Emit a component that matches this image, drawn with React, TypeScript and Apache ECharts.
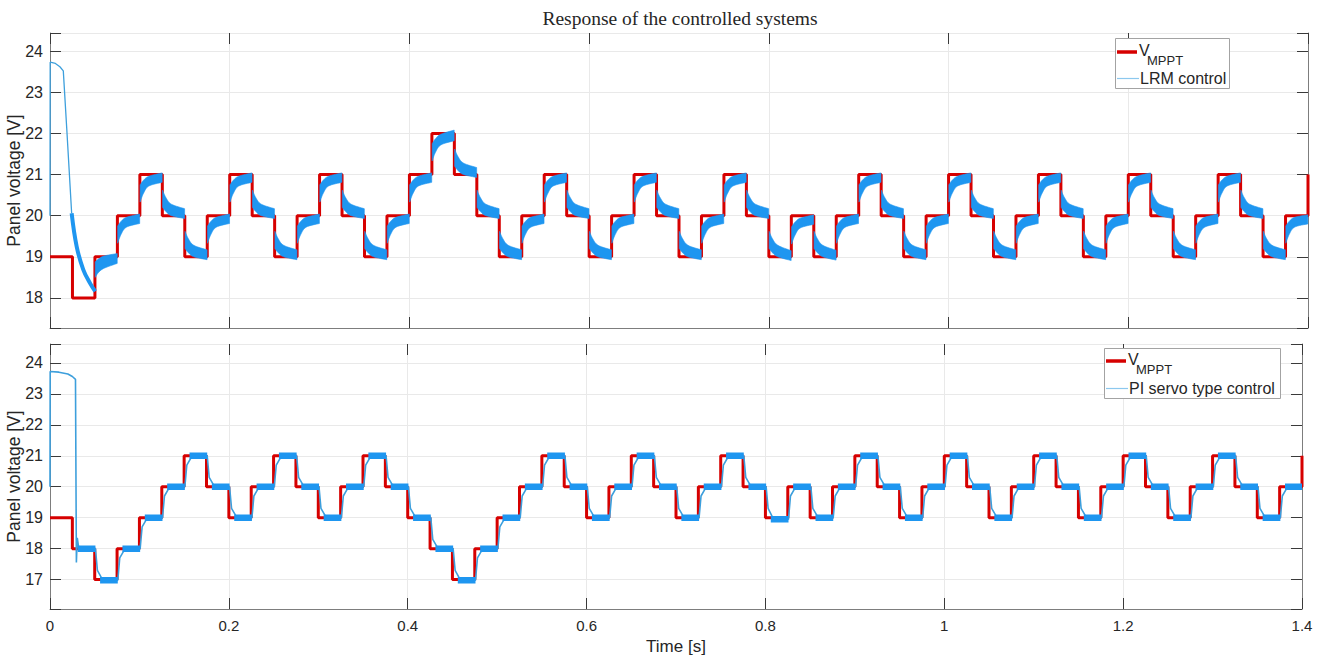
import React, { useEffect, useRef } from "react";
import * as echarts from "echarts";

// ---------- data ----------
const stepTimes = [
  0, 0.025, 0.05, 0.075, 0.1, 0.125, 0.15, 0.175, 0.2, 0.225, 0.25, 0.275, 0.3, 0.325, 0.35, 0.375,
  0.4, 0.425, 0.45, 0.475, 0.5, 0.525, 0.55, 0.575, 0.6, 0.625, 0.65, 0.675, 0.7, 0.725, 0.75, 0.775,
  0.8, 0.825, 0.85, 0.875, 0.9, 0.925, 0.95, 0.975, 1.0, 1.025, 1.05, 1.075, 1.1, 1.125, 1.15, 1.175,
  1.2, 1.225, 1.25, 1.275, 1.3, 1.325, 1.35, 1.375, 1.4,
];

const mpptTop = [
  19, 18, 19, 20, 21, 20, 19, 20, 21, 20, 19, 20, 21, 20, 19, 20,
  21, 22, 21, 20, 19, 20, 21, 20, 19, 20, 21, 20, 19, 20, 21, 20,
  19, 20, 19, 20, 21, 20, 19, 20, 21, 20, 19, 20, 21, 20, 19, 20,
  21, 20, 19, 20, 21, 20, 19, 20, 21,
];

const mpptBottom = [
  19, 18, 17, 18, 19, 20, 21, 20, 19, 20, 21, 20, 19, 20, 21, 20,
  19, 18, 17, 18, 19, 20, 21, 20, 19, 20, 21, 20, 19, 20, 21, 20,
  19, 20, 19, 20, 21, 20, 19, 20, 21, 20, 19, 20, 21, 20, 19, 20,
  21, 20, 19, 20, 21, 20, 19, 20, 21,
];

// LRM control: initial transient
const lrmInitT = [0, 0.0002, 0.006, 0.011, 0.0148, 0.0186, 0.0241];
const lrmInitV = [20.0, 23.73, 23.7, 23.62, 23.52, 22.13, 20.06];
const lrmSettleT = [0.0241, 0.0297, 0.037, 0.0445, 0.0503];
const lrmSettleV = [20.06, 19.25, 18.69, 18.36, 18.16];
// LRM control ripple band: lower / upper envelope, 4 readings per 25 ms step (from t = 0.05 s)
const lrmSampleOffsets = [0.0003, 0.004, 0.01, 0.0248];
const lrmLow = [
  [18.5, 18.62, 18.72, 18.84], // 0.050
  [19.33, 19.54, 19.72, 19.81], // 0.075
  [20.33, 20.54, 20.72, 20.81], // 0.100
  [20.2, 20.1, 20.0, 19.93], // 0.125
  [19.2, 19.1, 19.0, 18.93], // 0.150
  [19.33, 19.54, 19.72, 19.81], // 0.175
  [20.33, 20.54, 20.72, 20.81], // 0.200
  [20.2, 20.1, 20.0, 19.93], // 0.225
  [19.2, 19.1, 19.0, 18.93], // 0.250
  [19.33, 19.54, 19.72, 19.81], // 0.275
  [20.33, 20.54, 20.72, 20.81], // 0.300
  [20.2, 20.1, 20.0, 19.93], // 0.325
  [19.2, 19.1, 19.0, 18.93], // 0.350
  [19.33, 19.54, 19.72, 19.81], // 0.375
  [20.33, 20.54, 20.72, 20.81], // 0.400
  [21.33, 21.54, 21.72, 21.82], // 0.425
  [21.2, 21.1, 21.0, 20.93], // 0.450
  [20.2, 20.1, 20.0, 19.93], // 0.475
  [19.2, 19.1, 19.0, 18.93], // 0.500
  [19.33, 19.54, 19.72, 19.81], // 0.525
  [20.33, 20.54, 20.72, 20.81], // 0.550
  [20.2, 20.1, 20.0, 19.93], // 0.575
  [19.2, 19.1, 19.0, 18.93], // 0.600
  [19.33, 19.54, 19.72, 19.81], // 0.625
  [20.33, 20.54, 20.72, 20.81], // 0.650
  [20.2, 20.1, 20.0, 19.93], // 0.675
  [19.2, 19.1, 19.0, 18.93], // 0.700
  [19.33, 19.54, 19.72, 19.81], // 0.725
  [20.33, 20.54, 20.72, 20.81], // 0.750
  [20.2, 20.1, 20.0, 19.93], // 0.775
  [19.2, 19.1, 19.0, 18.91], // 0.800
  [19.31, 19.52, 19.7, 19.79], // 0.825
  [19.2, 19.1, 19.0, 18.92], // 0.850
  [19.33, 19.54, 19.72, 19.81], // 0.875
  [20.33, 20.54, 20.72, 20.81], // 0.900
  [20.2, 20.1, 20.0, 19.93], // 0.925
  [19.2, 19.1, 19.0, 18.93], // 0.950
  [19.33, 19.54, 19.72, 19.81], // 0.975
  [20.33, 20.54, 20.72, 20.81], // 1.000
  [20.2, 20.1, 20.0, 19.93], // 1.025
  [19.2, 19.1, 19.0, 18.93], // 1.050
  [19.33, 19.54, 19.72, 19.81], // 1.075
  [20.33, 20.54, 20.72, 20.81], // 1.100
  [20.2, 20.1, 20.0, 19.93], // 1.125
  [19.2, 19.1, 19.0, 18.93], // 1.150
  [19.33, 19.54, 19.72, 19.81], // 1.175
  [20.33, 20.54, 20.72, 20.81], // 1.200
  [20.2, 20.1, 20.0, 19.93], // 1.225
  [19.2, 19.1, 19.0, 18.93], // 1.250
  [19.33, 19.54, 19.72, 19.81], // 1.275
  [20.33, 20.54, 20.72, 20.81], // 1.300
  [20.2, 20.1, 20.0, 19.93], // 1.325
  [19.2, 19.1, 19.0, 18.93], // 1.350
  [19.33, 19.54, 19.72, 19.8], // 1.375
];
const lrmHigh = [
  [18.88, 18.95, 19.02, 19.08], // 0.050
  [19.75, 19.86, 19.96, 20.04], // 0.075
  [20.75, 20.86, 20.96, 21.04], // 0.100
  [20.62, 20.44, 20.28, 20.17], // 0.125
  [19.62, 19.44, 19.28, 19.17], // 0.150
  [19.75, 19.86, 19.96, 20.04], // 0.175
  [20.75, 20.86, 20.96, 21.04], // 0.200
  [20.62, 20.44, 20.28, 20.17], // 0.225
  [19.62, 19.44, 19.28, 19.17], // 0.250
  [19.75, 19.86, 19.96, 20.04], // 0.275
  [20.75, 20.86, 20.96, 21.04], // 0.300
  [20.62, 20.44, 20.28, 20.17], // 0.325
  [19.62, 19.44, 19.28, 19.17], // 0.350
  [19.75, 19.86, 19.96, 20.04], // 0.375
  [20.75, 20.86, 20.96, 21.04], // 0.400
  [21.75, 21.87, 21.98, 22.08], // 0.425
  [21.62, 21.44, 21.28, 21.17], // 0.450
  [20.62, 20.44, 20.28, 20.17], // 0.475
  [19.62, 19.44, 19.28, 19.17], // 0.500
  [19.75, 19.86, 19.96, 20.04], // 0.525
  [20.75, 20.86, 20.96, 21.04], // 0.550
  [20.62, 20.44, 20.28, 20.17], // 0.575
  [19.62, 19.44, 19.28, 19.17], // 0.600
  [19.75, 19.86, 19.96, 20.04], // 0.625
  [20.75, 20.86, 20.96, 21.04], // 0.650
  [20.62, 20.44, 20.28, 20.17], // 0.675
  [19.62, 19.44, 19.28, 19.17], // 0.700
  [19.75, 19.86, 19.96, 20.04], // 0.725
  [20.75, 20.86, 20.96, 21.04], // 0.750
  [20.62, 20.44, 20.28, 20.17], // 0.775
  [19.62, 19.44, 19.28, 19.15], // 0.800
  [19.73, 19.84, 19.94, 20.02], // 0.825
  [19.62, 19.44, 19.28, 19.16], // 0.850
  [19.75, 19.86, 19.96, 20.04], // 0.875
  [20.75, 20.86, 20.96, 21.04], // 0.900
  [20.62, 20.44, 20.28, 20.17], // 0.925
  [19.62, 19.44, 19.28, 19.17], // 0.950
  [19.75, 19.86, 19.96, 20.04], // 0.975
  [20.75, 20.86, 20.96, 21.04], // 1.000
  [20.62, 20.44, 20.28, 20.17], // 1.025
  [19.62, 19.44, 19.28, 19.17], // 1.050
  [19.75, 19.86, 19.96, 20.04], // 1.075
  [20.75, 20.86, 20.96, 21.04], // 1.100
  [20.62, 20.44, 20.28, 20.17], // 1.125
  [19.62, 19.44, 19.28, 19.17], // 1.150
  [19.75, 19.86, 19.96, 20.04], // 1.175
  [20.75, 20.86, 20.96, 21.04], // 1.200
  [20.62, 20.44, 20.28, 20.17], // 1.225
  [19.62, 19.44, 19.28, 19.17], // 1.250
  [19.75, 19.86, 19.96, 20.04], // 1.275
  [20.75, 20.86, 20.96, 21.04], // 1.300
  [20.62, 20.44, 20.28, 20.17], // 1.325
  [19.62, 19.44, 19.28, 19.17], // 1.350
  [19.75, 19.86, 19.96, 20.02], // 1.375
];

// PI servo control: initial transient
const piInitT = [0, 0.0002, 0.01, 0.02, 0.025, 0.0285, 0.0295, 0.0305, 0.032, 0.034];
const piInitV = [20.0, 23.72, 23.7, 23.64, 23.56, 23.47, 17.55, 18.35, 18.05, 18.0];
// PI servo control: settled level of each 25 ms step (from t = 0.025 s)
const piLevel = [
  18, 16.98, 18, 19, 20, 21, 20, 19, 20, 21, 20, 19, 20, 21, 20,
  19, 18, 16.98, 18, 19, 20, 21, 20, 19, 20, 21, 20, 19, 20, 21, 20,
  18.95, 20, 19, 20, 21, 20, 19, 20, 21, 20, 19, 20, 21, 20, 19, 20,
  21, 20, 19, 20, 21, 20, 19, 20,
];
// PI servo control: value ~3 ms after each step (from t = 0.05 s)
const piKnee = [
  17.3, 17.7, 18.7, 19.7, 20.7, 20.3, 19.3, 19.7, 20.7, 20.3, 19.3, 19.7, 20.7, 20.3,
  19.3, 18.3, 17.3, 17.7, 18.7, 19.7, 20.7, 20.3, 19.3, 19.7, 20.7, 20.3, 19.3, 19.7,
  20.7, 20.3, 19.3, 19.7, 19.3, 19.7, 20.7, 20.3, 19.3, 19.7, 20.7, 20.3, 19.3, 19.7,
  20.7, 20.3, 19.3, 19.7, 20.7, 20.3, 19.3, 19.7, 20.7, 20.3, 19.3, 19.7,
];

const xTicks = { min: 0, max: 1.4, interval: 0.2 };
const topRange = { min: 17.27, max: 24.44 };
const bottomRange = { min: 16.05, max: 24.61 };

// ---------- styling ----------
const SANS = "'Liberation Sans', Arial, Helvetica, sans-serif";
const RED = "#d60000";
const BLUE = "#1e96f0";
const THIN_BLUE = "#3d9fdc";
const AXIS = "#7d7d7d";
const TICK = "#3a3a3a";
const GRID = "#e9e9e9";
const LABEL = "#262626";

// smooth curve through pixel points (drawing helper only)
function spline(pts: number[][], steps = 8): number[][] {
  const out: number[][] = [];
  const n = pts.length;
  for (let i = 0; i < n - 1; i++) {
    const p0 = pts[Math.max(i - 1, 0)];
    const p1 = pts[i];
    const p2 = pts[i + 1];
    const p3 = pts[Math.min(i + 2, n - 1)];
    for (let s = 0; s < steps; s++) {
      const t = s / steps;
      const t2 = t * t;
      const t3 = t2 * t;
      const f = (a: number, b: number, c: number, d: number) =>
        0.5 * (2 * b + (-a + c) * t + (2 * a - 5 * b + 4 * c - d) * t2 + (-a + 3 * b - 3 * c + d) * t3);
      out.push([f(p0[0], p1[0], p2[0], p3[0]), f(p0[1], p1[1], p2[1], p3[1])]);
    }
  }
  out.push(pts[n - 1]);
  return out;
}

function buildOption(): any {
  const redTop = stepTimes.map((t, i) => [t, mpptTop[i]]);
  const redBottom = stepTimes.map((t, i) => [t, mpptBottom[i]]);

  const lrmInit = lrmInitT.map((t, i) => [t, lrmInitV[i]]);
  const lrmSettle = lrmSettleT.map((t, i) => [t, lrmSettleV[i]]);
  // one item per step: 4 times, 4 lower values, 4 upper values
  const bandItems = lrmLow.map((lows, k) => {
    const t0 = stepTimes[k + 2];
    return [...lrmSampleOffsets.map((o) => t0 + o), ...lows, ...lrmHigh[k]];
  });

  const piThin: any[] = piInitT.map((t, i) => [t, piInitV[i]]);
  for (let seg = 2; seg <= 55; seg++) {
    const t0 = stepTimes[seg];
    const prev = piLevel[seg - 2];
    const lvl = piLevel[seg - 1];
    piThin.push([t0 + 0.0008, prev]);
    piThin.push([t0 + 0.003, piKnee[seg - 2]]);
    piThin.push([t0 + 0.009, lvl]);
  }
  piThin.push([1.4, piLevel[54]]);

  const piBandData: any[] = [];
  for (let seg = 1; seg <= 55; seg++) {
    const lvl = piLevel[seg - 1];
    const ts = seg === 1 ? 0.031 : stepTimes[seg] + 0.006;
    const te = seg === 55 ? 1.4 : stepTimes[seg + 1] + 0.0008;
    piBandData.push([ts, lvl], [te, lvl], [te, "-"]);
  }

  const xMain = (gridIndex: number, labels: boolean) => ({
    type: "value",
    gridIndex,
    ...xTicks,
    position: "bottom",
    axisLine: { show: true, onZero: false, lineStyle: { color: AXIS, width: 1 } },
    axisTick: { show: true, inside: true, length: 11, lineStyle: { color: TICK, width: 1 } },
    axisLabel: {
      show: labels,
      fontFamily: SANS,
      fontSize: 15,
      color: LABEL,
      margin: 9,
    },
    splitLine: { show: true, lineStyle: { color: GRID, width: 1 } },
    name: labels ? "Time [s]" : "",
    nameLocation: "middle",
    nameGap: 29,
    nameMoveOverlap: false,
    nameTextStyle: { fontFamily: SANS, fontSize: 17, color: LABEL },
  });
  const xTop = (gridIndex: number) => ({
    type: "value",
    gridIndex,
    ...xTicks,
    position: "top",
    axisLine: { show: false, onZero: false },
    axisTick: { show: true, inside: true, length: 11, lineStyle: { color: TICK, width: 1 } },
    axisLabel: { show: false },
    splitLine: { show: false },
  });
  const intLabel = (v: number) =>
    Math.abs(v - Math.round(v)) < 1e-6 ? String(Math.round(v)) : "";
  const yLeft = (gridIndex: number, range: { min: number; max: number }) => ({
    type: "value",
    gridIndex,
    ...range,
    minInterval: 1,
    maxInterval: 1,
    position: "left",
    axisLine: { show: true, onZero: false, lineStyle: { color: AXIS, width: 1 } },
    axisTick: { show: true, inside: true, length: 11, lineStyle: { color: TICK, width: 1 } },
    axisLabel: {
      fontFamily: SANS,
      fontSize: 16,
      color: LABEL,
      margin: 7,
      formatter: intLabel,
    },
    splitLine: { show: true, lineStyle: { color: GRID, width: 1 } },
    name: "Panel voltage [V]",
    nameLocation: "middle",
    nameGap: 27,
    nameRotate: 90,
    nameMoveOverlap: false,
    nameTextStyle: { fontFamily: SANS, fontSize: 17.5, color: LABEL },
  });
  const yRight = (gridIndex: number, range: { min: number; max: number }) => ({
    type: "value",
    gridIndex,
    ...range,
    minInterval: 1,
    maxInterval: 1,
    position: "right",
    axisLine: { show: true, onZero: false, lineStyle: { color: AXIS, width: 1 } },
    axisTick: { show: true, inside: true, length: 11, lineStyle: { color: TICK, width: 1 } },
    axisLabel: { show: false },
    splitLine: { show: false },
  });

  const lineBase = {
    type: "line",
    showSymbol: false,
    symbol: "none",
    silent: true,
    connectNulls: false,
  };

  const legend = (
    x: number,
    y: number,
    w: number,
    h: number,
    row1: number,
    row2: number,
    label2: string
  ) => [
    {
      type: "rect",
      z: 100,
      shape: { x: x + 0.5, y: y + 0.5, width: w, height: h },
      style: { fill: "#ffffff", stroke: "#a3a3a3", lineWidth: 1 },
    },
    {
      type: "line",
      z: 101,
      shape: { x1: x + 2, y1: row1 + 2, x2: x + 22, y2: row1 + 2 },
      style: { stroke: RED, lineWidth: 3.5 },
    },
    {
      type: "text",
      z: 101,
      x: x + 24,
      y: row1,
      style: { text: "V", font: `16px ${SANS}`, fill: LABEL, verticalAlign: "middle" },
    },
    {
      type: "text",
      z: 101,
      x: x + 32,
      y: row1 + 10,
      style: { text: "MPPT", font: `13px ${SANS}`, fill: LABEL, verticalAlign: "middle" },
    },
    {
      type: "line",
      z: 101,
      shape: { x1: x + 2, y1: row2 + 0.5, x2: x + 24, y2: row2 + 0.5 },
      style: { stroke: "#8cc8ee", lineWidth: 1.2 },
    },
    {
      type: "text",
      z: 101,
      x: x + 25,
      y: row2,
      style: { text: label2, font: `16px ${SANS}`, fill: LABEL, verticalAlign: "middle" },
    },
  ];

  return {
    animation: false,
    backgroundColor: "#ffffff",
    grid: [
      { left: 50, right: 20, top: 33, bottom: 330, containLabel: false, outerBoundsMode: "none" },
      { left: 50, right: 26, top: 344, bottom: 49, containLabel: false, outerBoundsMode: "none" },
    ],
    xAxis: [xMain(0, false), xTop(0), xMain(1, true), xTop(1)],
    yAxis: [yLeft(0, topRange), yRight(0, topRange), yLeft(1, bottomRange), yRight(1, bottomRange)],
    series: [
      {
        ...lineBase,
        name: "V_MPPT",
        xAxisIndex: 0,
        yAxisIndex: 0,
        step: "end",
        data: redTop,
        lineStyle: { color: RED, width: 3 },
        z: 2,
      },
      {
        ...lineBase,
        name: "LRM control",
        xAxisIndex: 0,
        yAxisIndex: 0,
        data: lrmInit,
        lineStyle: { color: THIN_BLUE, width: 1.3 },
        z: 3,
      },
      {
        ...lineBase,
        name: "LRM control settle",
        xAxisIndex: 0,
        yAxisIndex: 0,
        data: lrmSettle,
        smooth: 0.4,
        lineStyle: { color: BLUE, width: 4 },
        z: 3,
      },
      {
        type: "custom",
        name: "LRM band",
        xAxisIndex: 0,
        yAxisIndex: 0,
        silent: true,
        z: 4,
        encode: { x: [0, 1, 2, 3], y: [4, 5, 6, 7, 8, 9, 10, 11] },
        data: bandItems,
        renderItem: (_params: any, api: any) => {
          const lo: number[][] = [];
          const hi: number[][] = [];
          for (let j = 0; j < 4; j++) {
            lo.push(api.coord([api.value(j), api.value(4 + j)]));
            hi.push(api.coord([api.value(j), api.value(8 + j)]));
          }
          const points = [...spline(lo), ...spline(hi).reverse()];
          return {
            type: "polygon",
            shape: { points },
            style: { fill: BLUE, stroke: BLUE, lineWidth: 0.6 },
          };
        },
      },
      {
        ...lineBase,
        name: "V_MPPT bottom",
        xAxisIndex: 2,
        yAxisIndex: 2,
        step: "end",
        data: redBottom,
        lineStyle: { color: RED, width: 3 },
        z: 2,
      },
      {
        ...lineBase,
        name: "PI servo type control",
        xAxisIndex: 2,
        yAxisIndex: 2,
        data: piThin,
        lineStyle: { color: THIN_BLUE, width: 1.6 },
        z: 3,
      },
      {
        ...lineBase,
        name: "PI servo band",
        xAxisIndex: 2,
        yAxisIndex: 2,
        data: piBandData,
        lineStyle: { color: BLUE, width: 6.5, cap: "butt" },
        z: 4,
      },
    ],
    graphic: [
      {
        type: "text",
        z: 100,
        x: 680,
        y: 18,
        style: {
          text: "Response of the controlled systems",
          font: "19.5px 'Liberation Serif', 'Times New Roman', serif",
          fill: LABEL,
          align: "center",
          verticalAlign: "middle",
        },
      },
      ...legend(1115, 38, 114, 50, 50, 78, "LRM control"),
      ...legend(1104, 348, 176, 50, 359, 388, "PI servo type control"),
    ],
  };
}

export default function App() {
  const ref = useRef<HTMLDivElement>(null);
  useEffect(() => {
    if (!ref.current) return;
    const chart = echarts.init(ref.current, undefined, { renderer: "svg" });
    chart.setOption(buildOption());
    return () => {
      chart.dispose();
    };
  }, []);
  return (
    <div
      ref={ref}
      style={{ position: "fixed", left: 0, top: 0, width: 1328, height: 658, background: "#fff" }}
    />
  );
}
